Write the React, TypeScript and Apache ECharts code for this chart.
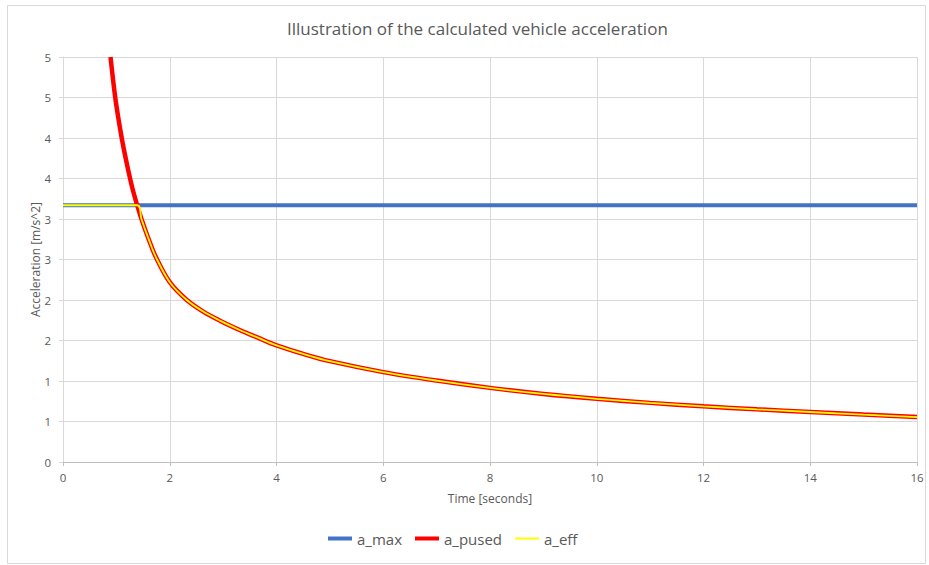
import React, { useEffect, useRef } from "react";
import * as echarts from "echarts";

// Time samples (s) and the power-limited acceleration (m/s^2) at each sample
const pusedTime = [0.89, 0.95, 1.0, 1.1, 1.2, 1.3, 1.39, 1.47, 1.6, 1.74, 2.0, 2.32, 2.62, 2.94, 3.31, 3.65, 4.0, 4.5, 5.0, 6.0, 7.0, 8.0, 9.0, 10.0, 11.0, 12.0, 13.0, 14.0, 15.0, 16.0];
const pusedValues = [5.0, 4.65, 4.4, 4.0, 3.67, 3.38, 3.17, 3.0, 2.76, 2.53, 2.22, 2.0, 1.86, 1.745, 1.63, 1.535, 1.44, 1.335, 1.245, 1.11, 1.005, 0.915, 0.84, 0.78, 0.73, 0.687, 0.65, 0.617, 0.585, 0.555];

// Traction-limited maximum acceleration (constant)
const maxTime = [0, 16];
const maxValues = [3.17, 3.17];

// Effective acceleration: capped at a_max, then follows a_pused
const effTime = [0, 1.39, 1.47, 1.6, 1.74, 2.0, 2.32, 2.62, 2.94, 3.31, 3.65, 4.0, 4.5, 5.0, 6.0, 7.0, 8.0, 9.0, 10.0, 11.0, 12.0, 13.0, 14.0, 15.0, 16.0];
const effValues = [3.17, 3.17, 3.0, 2.76, 2.53, 2.22, 2.0, 1.86, 1.745, 1.63, 1.535, 1.44, 1.335, 1.245, 1.11, 1.005, 0.915, 0.84, 0.78, 0.73, 0.687, 0.65, 0.617, 0.585, 0.555];

// Y tick labels (ticks every 0.5, shown rounded to whole numbers)
const yTickLabels = ["0", "1", "1", "2", "2", "3", "3", "4", "4", "5", "5"];

const seriesNames = ["a_max", "a_pused", "a_eff"];

const zip = (xs: number[], ys: number[]) => xs.map((x, i) => [x, ys[i]]);

const FONT = "'Open Sans', 'Noto Sans', sans-serif";
const GREY = "#595959";

// Legend swatches: full-height bar for the thick lines, thin centred bar for a_eff
const THICK_ICON = "path://M0,0H24V4H0Z";
const THIN_ICON = "path://M0,0H24V0.001H0Z M0,1.1H24V2.9H0Z M0,3.999H24V4H0Z";

export default function App() {
  const ref = useRef<HTMLDivElement>(null);

  useEffect(() => {
    document.body.style.margin = "0";
    const chart = echarts.init(ref.current!, null, { renderer: "svg" });
    chart.setOption({
      animation: false,
      backgroundColor: "#ffffff",
      textStyle: { fontFamily: FONT },
      title: {
        text: "Illustration of the calculated vehicle acceleration",
        left: 282,
        top: 15,
        textStyle: { fontFamily: FONT, fontSize: 17, fontWeight: "normal", color: GREY },
      },
      graphic: [
        {
          type: "rect",
          shape: { x: 7.5, y: 5.5, width: 918, height: 558 },
          style: { fill: "none", stroke: "#d9d9d9", lineWidth: 1 },
          silent: true,
        },
      ],
      grid: { left: 63, right: 12, top: 57, bottom: 103, containLabel: false },
      xAxis: {
        type: "value",
        min: 0,
        max: 16,
        interval: 2,
        name: "Time [seconds]",
        nameLocation: "middle",
        nameGap: 30,
        nameTextStyle: { fontFamily: FONT, fontSize: 12, color: GREY },
        axisLine: { show: true, lineStyle: { color: "#bfbfbf", width: 1 } },
        axisTick: { show: true, length: 4, lineStyle: { color: "#bfbfbf" } },
        axisLabel: { fontFamily: FONT, fontSize: 11.5, color: GREY, margin: 9 },
        splitLine: { show: true, lineStyle: { color: "#d9d9d9", width: 1 } },
      },
      yAxis: {
        type: "value",
        min: 0,
        max: 5,
        interval: 0.5,
        name: "Acceleration [m/s^2]",
        nameLocation: "middle",
        nameGap: 22,
        nameMoveOverlap: false,
        nameRotate: 90,
        nameTextStyle: { fontFamily: FONT, fontSize: 12, color: GREY },
        axisLine: { show: true, lineStyle: { color: "#d9d9d9", width: 1 } },
        axisTick: { show: true, length: 4, lineStyle: { color: "#d9d9d9" } },
        axisLabel: {
          fontFamily: FONT,
          fontSize: 11.5,
          color: GREY,
          margin: 12,
          formatter: (v: number) => yTickLabels[Math.round(v / 0.5)] ?? "",
        },
        splitLine: { show: true, lineStyle: { color: "#d9d9d9", width: 1 } },
      },
      legend: {
        bottom: 14,
        left: 323,
        itemWidth: 24,
        itemHeight: 4,
        itemGap: 13,
        textStyle: { fontFamily: FONT, fontSize: 15, color: GREY },
        data: [
          { name: seriesNames[0], icon: THICK_ICON, itemStyle: { color: "#4472c4" } },
          { name: seriesNames[1], icon: THICK_ICON, itemStyle: { color: "#ff0000" } },
          { name: seriesNames[2], icon: THIN_ICON, itemStyle: { color: "#ffff00" } },
        ],
      },
      series: [
        {
          name: seriesNames[0],
          type: "line",
          data: zip(maxTime, maxValues),
          symbol: "none",
          lineStyle: { color: "#4472c4", width: 4 },
          itemStyle: { color: "#4472c4" },
          z: 1,
        },
        {
          name: seriesNames[1],
          type: "line",
          data: zip(pusedTime, pusedValues),
          symbol: "none",
          smooth: 0.35,
          lineStyle: { color: "#ff0000", width: 4.5 },
          itemStyle: { color: "#ff0000" },
          z: 2,
        },
        {
          name: seriesNames[2],
          type: "line",
          data: zip(effTime, effValues),
          symbol: "none",
          smooth: 0.35,
          lineStyle: { color: "#ffff00", width: 1.8 },
          itemStyle: { color: "#ffff00" },
          z: 3,
        },
      ],
    });
    return () => chart.dispose();
  }, []);

  return <div ref={ref} style={{ width: 929, height: 565 }} />;
}
